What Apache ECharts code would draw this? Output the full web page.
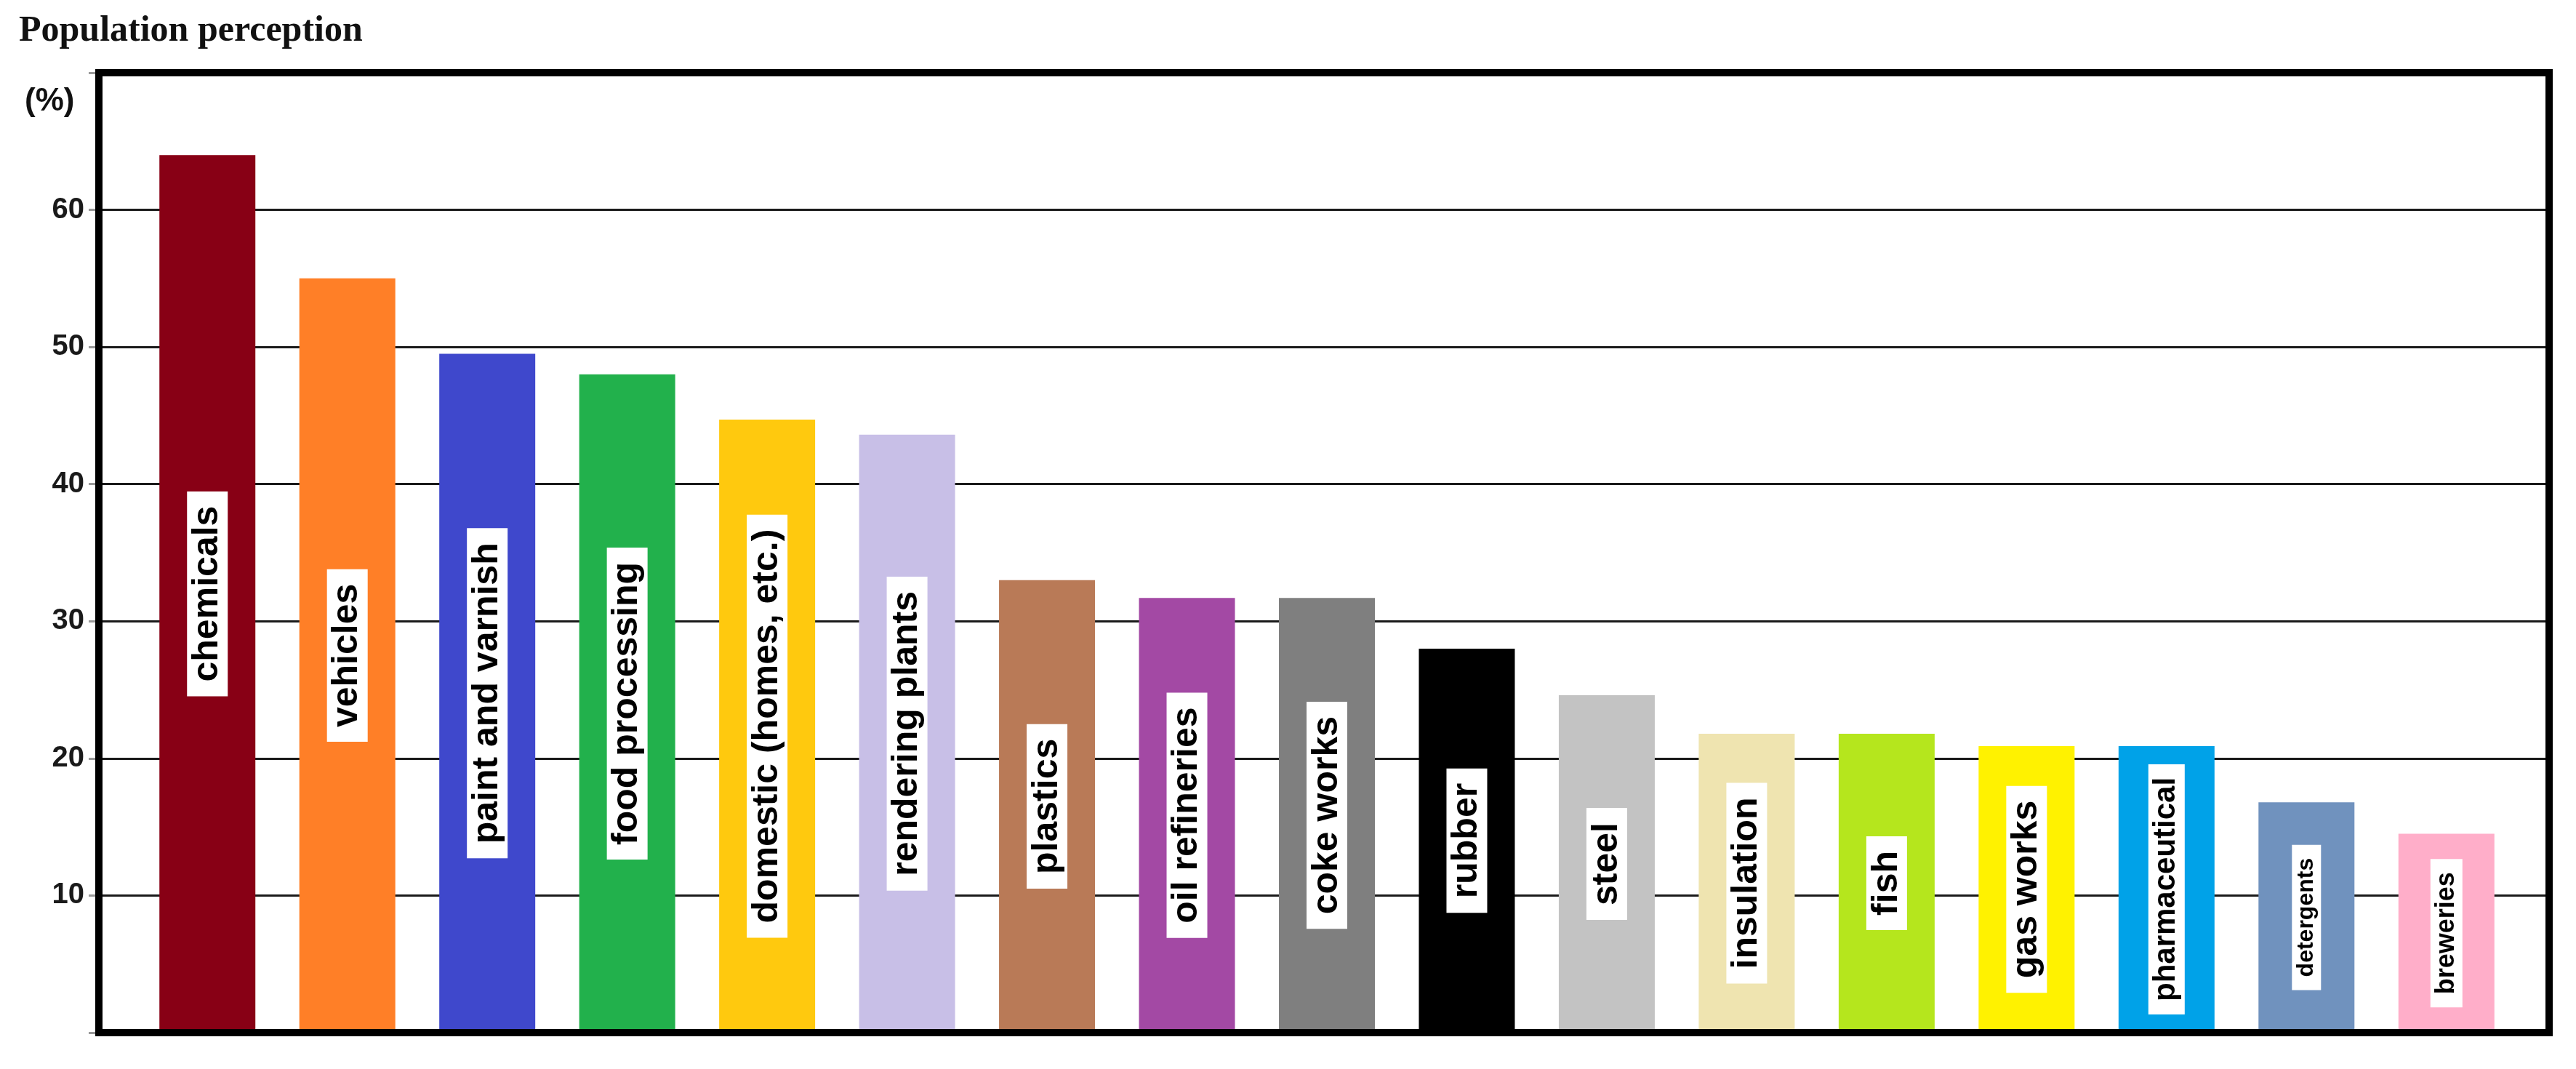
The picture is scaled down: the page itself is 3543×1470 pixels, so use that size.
<!DOCTYPE html>
<html>
<head>
<meta charset="utf-8">
<title>Population perception</title>
<script src="https://cdn.jsdelivr.net/npm/echarts@6/dist/echarts.min.js"></script>
<style>
  html, body { margin: 0; padding: 0; background: #fff; }
  #chart { width: 3543px; height: 1470px; }
</style>
</head>
<body>
<div id="chart"></div>
<script>
// sources of odour, % of population that perceives them
var categories = ['chemicals', 'vehicles', 'paint and varnish', 'food processing',
  'domestic (homes, etc.)', 'rendering plants', 'plastics', 'oil refineries',
  'coke works', 'rubber', 'steel', 'insulation', 'fish', 'gas works',
  'pharmaceutical', 'detergents', 'breweries'];
var values = [64, 55, 49.5, 48, 44.7, 43.6, 33, 31.7, 31.7, 28, 24.6, 21.8, 21.8, 20.9, 20.9, 16.8, 14.5];
var yTickLabels = [10, 20, 30, 40, 50, 60];

// paint-palette colours, one per bar
var barColors = ['#880015', '#ff7f27', '#3f48cc', '#22b14c', '#ffc90e', '#c8bfe7',
  '#b97a57', '#a349a4', '#7f7f7f', '#000000', '#c3c3c3', '#efe4b0', '#b5e61d',
  '#fff200', '#00a2e8', '#7092be', '#ffaec9'];
// the last labels are set in a smaller type
var smallLabelSize = { 'pharmaceutical': 42, 'detergents': 32, 'breweries': 36 };

var chart = echarts.init(document.getElementById('chart'));

var barData = values.map(function (v, i) {
  var item = { value: v, itemStyle: { color: barColors[i] } };
  var fs = smallLabelSize[categories[i]];
  if (fs) {
    item.label = { fontSize: fs, lineHeight: fs, padding: [4, 18] };
  }
  return item;
});

var option = {
  backgroundColor: '#fff',
  animation: false,
  title: {
    text: 'Population perception',
    left: 26,
    top: 18,
    padding: 0,
    textStyle: {
      fontFamily: 'Liberation Serif',
      fontWeight: 'bold',
      fontSize: 50,
      color: '#111'
    }
  },
  graphic: [{
    type: 'text',
    left: 34,
    top: 118,
    style: {
      text: '(%)',
      font: 'bold 44px "Liberation Sans Narrow", "Liberation Sans", Arial',
      fill: '#111'
    }
  }],
  grid: [
    // frame + y scale
    { left: 136, right: 37, top: 100, bottom: 50, show: true, z: 10,
      borderColor: '#000', borderWidth: 10, backgroundColor: 'transparent' },
    // bars sit a little inside the frame
    { left: 189, right: 82, top: 100, bottom: 50 }
  ],
  xAxis: [
    { type: 'category', gridIndex: 0, data: categories, show: false },
    { type: 'category', gridIndex: 1, data: categories, show: false }
  ],
  yAxis: [
    {
      type: 'value',
      gridIndex: 0,
      min: 0,
      max: 70,
      interval: 10,
      axisLine: { show: false },
      axisTick: { show: true, length: 14, lineStyle: { color: '#999', width: 3 } },
      axisLabel: {
        margin: 20,
        fontFamily: 'Liberation Sans',
        fontWeight: 'bold',
        fontSize: 40,
        color: '#1a1a1a',
        formatter: function (v) {
          return yTickLabels.indexOf(v) >= 0 ? String(v) : '';
        }
      },
      splitLine: { show: true, lineStyle: { color: '#1a1a1a', width: 3 } }
    },
    { type: 'value', gridIndex: 1, min: 0, max: 70, interval: 10, show: false,
      splitLine: { show: false } }
  ],
  series: [{
    type: 'bar',
    xAxisIndex: 1,
    yAxisIndex: 1,
    barWidth: 132,
    data: barData,
    label: {
      show: true,
      position: 'inside',
      rotate: 90,
      formatter: '{b}',
      fontFamily: 'Liberation Sans',
      fontWeight: 'bold',
      fontSize: 50,
      lineHeight: 46,
      color: '#000',
      backgroundColor: '#fff',
      padding: [5, 20]
    }
  }]
};

chart.setOption(option);
</script>
</body>
</html>
